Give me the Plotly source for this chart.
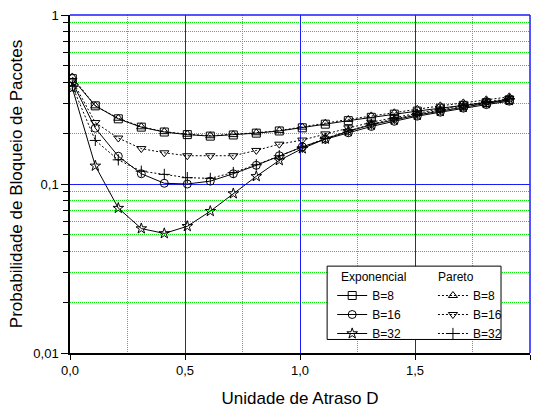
import plotly.graph_objects as go

# Unidade de atraso D (eixo x)
atraso = [0.01, 0.11, 0.21, 0.31, 0.41, 0.51, 0.61, 0.71, 0.81, 0.91,
          1.01, 1.11, 1.21, 1.31, 1.41, 1.51, 1.61, 1.71, 1.81, 1.91]

# Probabilidade de bloqueio - tráfego exponencial
exp_b8 = [0.42, 0.29, 0.243, 0.217, 0.203, 0.196, 0.192, 0.195, 0.200, 0.206,
          0.215, 0.226, 0.237, 0.248, 0.259, 0.270, 0.281, 0.292, 0.303, 0.315]
exp_b16 = [0.40, 0.214, 0.146, 0.115, 0.101, 0.100, 0.104, 0.115, 0.129, 0.147,
           0.166, 0.184, 0.201, 0.219, 0.235, 0.252, 0.266, 0.281, 0.295, 0.309]
exp_b32 = [0.37, 0.128, 0.072, 0.0545, 0.051, 0.0562, 0.069, 0.0878, 0.111, 0.138,
           0.162, 0.185, 0.205, 0.224, 0.240, 0.256, 0.270, 0.285, 0.300, 0.313]

# Probabilidade de bloqueio - tráfego Pareto
par_b8 = [0.43, 0.29, 0.245, 0.218, 0.204, 0.197, 0.193, 0.196, 0.201, 0.207,
          0.217, 0.229, 0.241, 0.253, 0.264, 0.277, 0.290, 0.302, 0.315, 0.328]
par_b16 = [0.41, 0.231, 0.187, 0.162, 0.153, 0.147, 0.147, 0.147, 0.158, 0.172,
           0.182, 0.198, 0.215, 0.232, 0.247, 0.263, 0.278, 0.292, 0.306, 0.320]
par_b32 = [0.38, 0.181, 0.139, 0.119, 0.114, 0.109, 0.108, 0.117, 0.130, 0.147,
           0.165, 0.186, 0.206, 0.226, 0.243, 0.259, 0.274, 0.289, 0.304, 0.318]

x_ticks = [0.0, 0.5, 1.0, 1.5, 2.0]
x_ticktext = ["0,0", "0,5", "1,0", "1,5", "2,0"]
y_ticks = [0.01, 0.1, 1]
y_ticktext = ["0,01", "0,1", "1"]

FONT = "Liberation Sans, Arial, sans-serif"
BLUE = "#1a1aff"
GREEN = "#00ee00"

fig = go.Figure()

series = [
    (exp_b8, "B=8", "square-open", "solid", "legend"),
    (exp_b16, "B=16", "circle-open", "solid", "legend"),
    (exp_b32, "B=32", "star-open", "solid", "legend"),
    (par_b8, "B=8", "triangle-up-open", "2px,2px", "legend2"),
    (par_b16, "B=16", "triangle-down-open", "2px,2px", "legend2"),
    (par_b32, "B=32", "cross-thin-open", "2px,2px", "legend2"),
]

for vals, name, sym, dash, leg in series:
    fig.add_trace(go.Scatter(
        x=atraso, y=vals, name=name, mode="lines+markers",
        line=dict(color="black", width=1, dash=dash),
        marker=dict(symbol=sym, size=8, color="black",
                    line=dict(color="black", width=1)),
        legend=leg,
    ))

# borders at the top and right of the plot area
fig.add_shape(type="line", xref="paper", yref="paper", x0=0, x1=1, y0=1, y1=1,
              line=dict(color=BLUE, width=1.5))
fig.add_shape(type="line", xref="paper", yref="paper", x0=1, x1=1, y0=0, y1=1,
              line=dict(color=BLUE, width=1.5))
# legend frame
fig.add_shape(type="rect", xref="paper", yref="paper",
              x0=0.559, x1=0.937, y0=0.04, y1=0.257,
              fillcolor="white", line=dict(color="black", width=1), layer="above")

# column headings of the legend
for txt, xp in [("Exponencial", 0.585), ("Pareto", 0.796)]:
    fig.add_annotation(text=txt, xref="paper", yref="paper", x=xp, y=0.224,
                       xanchor="left", yanchor="middle", showarrow=False,
                       font=dict(size=12))

leg_common = dict(yanchor="top", bgcolor="rgba(0,0,0,0)", borderwidth=0,
                  itemwidth=30, font=dict(size=12), tracegroupgap=0)

fig.update_layout(
    width=539, height=408,
    margin=dict(l=70, r=9, t=15, b=55),
    paper_bgcolor="white", plot_bgcolor="white",
    font=dict(family=FONT, size=12, color="black"),
    showlegend=True,
    legend=dict(x=0.57, y=0.213, xanchor="left", **leg_common),
    legend2=dict(x=0.789, y=0.213, xanchor="left", **leg_common),
    xaxis=dict(
        range=[0, 2], tickvals=x_ticks, ticktext=x_ticktext, automargin=False,
        showline=True, linecolor="black", linewidth=1.5,
        ticks="outside", ticklen=5, tickcolor="black",
        showgrid=True, gridcolor=BLUE, gridwidth=1, zeroline=False,
        tickfont=dict(size=13),
        title=dict(text="Unidade de Atraso D", font=dict(size=17), standoff=17),
        minor=dict(tickvals=[0.25, 0.75, 1.25, 1.75], showgrid=True,
                   gridcolor=GREEN, griddash="1px,1px", gridwidth=1, ticks=""),
    ),
    yaxis=dict(
        type="log", range=[-2, 0], tickvals=y_ticks, ticktext=y_ticktext, automargin=False,
        showline=True, linecolor="black", linewidth=1.5,
        ticks="outside", ticklen=7, tickcolor="black",
        showgrid=True, gridcolor=BLUE, gridwidth=1, zeroline=False,
        tickfont=dict(size=13),
        title=dict(text="Probabilidade de Bloqueio de Pacotes", font=dict(size=17), standoff=6),
        minor=dict(tickvals=[0.02, 0.03, 0.04, 0.05, 0.06, 0.07, 0.08, 0.09,
                             0.2, 0.3, 0.4, 0.5, 0.6, 0.7, 0.8, 0.9],
                   showgrid=True, gridcolor=GREEN, griddash="1px,1px", gridwidth=1,
                   ticks="outside", ticklen=5, tickcolor="black"),
    ),
)

fig.write_html("out.html")
